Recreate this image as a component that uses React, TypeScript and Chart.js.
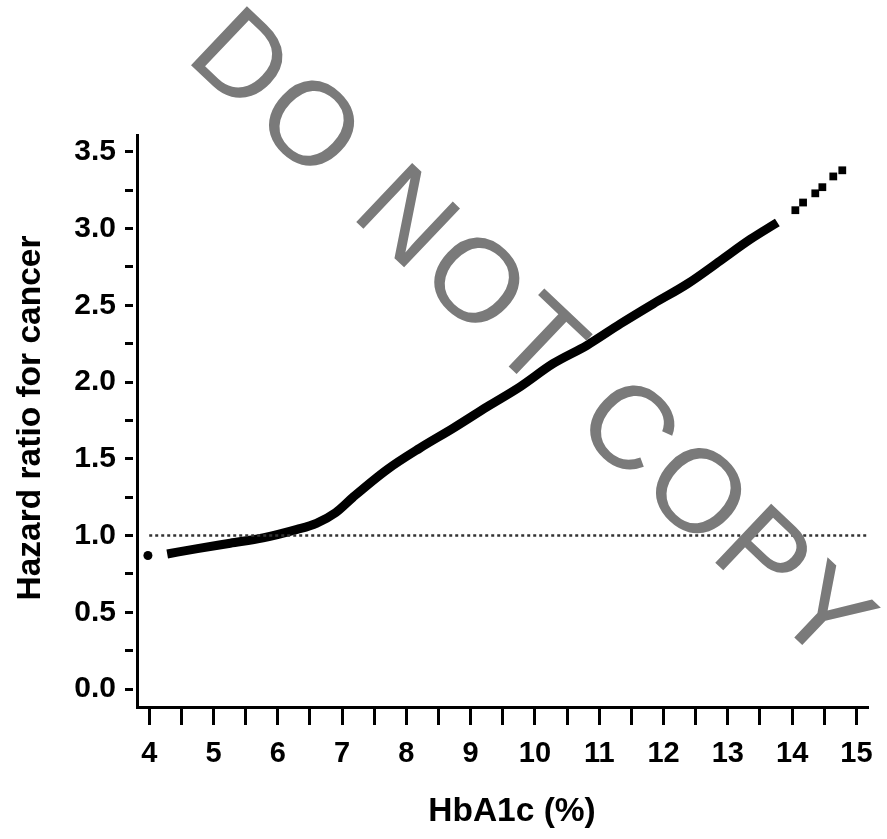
import React, { useEffect, useRef } from "react";
import { Chart, registerables } from "chart.js";

Chart.register(...registerables);

// Main continuous curve (HbA1c %, hazard ratio)
const curveX = [4.28, 4.75, 5.26, 5.77, 6.3, 6.6, 6.9, 7.17, 7.7, 8.21, 8.73, 9.26, 9.77, 10.28, 10.81, 11.33, 11.84, 12.37, 12.88, 13.35, 13.77];
const curveY = [0.88, 0.915, 0.95, 0.985, 1.04, 1.08, 1.15, 1.25, 1.43, 1.57, 1.7, 1.84, 1.97, 2.12, 2.24, 2.38, 2.51, 2.64, 2.79, 2.93, 3.04];

// Isolated markers
const dotX = [3.98, 14.05, 14.17, 14.36, 14.47, 14.64, 14.78];
const dotY = [0.87, 3.12, 3.17, 3.23, 3.27, 3.34, 3.38];
const dotStyle = ["circle", "rect", "rect", "rect", "rect", "rect", "rect"];
const dotSize = [4.5, 5.5, 5.5, 5.5, 5.5, 5.5, 5.5];

// Reference line HR = 1
const refX = [4.0, 15.22];
const refY = [1, 1];

// Axis ticks
const xTicks = [4, 4.5, 5, 5.5, 6, 6.5, 7, 7.5, 8, 8.5, 9, 9.5, 10, 10.5, 11, 11.5, 12, 12.5, 13, 13.5, 14, 14.5, 15];
const yTicks = [0, 0.25, 0.5, 0.75, 1, 1.25, 1.5, 1.75, 2, 2.25, 2.5, 2.75, 3, 3.25, 3.5];

const xTitle = "HbA1c (%)";
const yTitle = "Hazard ratio for cancer";
const watermark = "DO NOT COPY";

const FONT = '"Liberation Sans", Arial, Helvetica, sans-serif';

const overlay = {
  id: "overlay",
  afterDraw(chart: any) {
    const ctx = chart.ctx as CanvasRenderingContext2D;
    ctx.save();
    ctx.fillStyle = "#000";
    ctx.font = `bold 33.5px ${FONT}`;
    ctx.textAlign = "center";
    ctx.textBaseline = "middle";
    ctx.fillText(xTitle, 512, 812);
    ctx.translate(31, 418);
    ctx.rotate(-Math.PI / 2);
    ctx.fillText(yTitle, 0, 0);
    ctx.restore();

    ctx.save();
    ctx.translate(530, 342);
    ctx.rotate((43.5 * Math.PI) / 180);
    ctx.font = `118px ${FONT}`;
    (ctx as any).letterSpacing = "6px";
    ctx.fillStyle = "#7a7a7a";
    ctx.textAlign = "center";
    ctx.textBaseline = "middle";
    ctx.fillText(watermark, 0, 0);
    ctx.restore();
  },
};

export default function App() {
  const ref = useRef<HTMLCanvasElement | null>(null);

  useEffect(() => {
    if (!ref.current) return;
    const tickFont = { family: FONT, size: 29, weight: "bold" as const };
    const chart = new Chart(ref.current, {
      type: "line",
      data: {
        datasets: [
          {
            label: "ref",
            data: refX.map((x, i) => ({ x, y: refY[i] })),
            borderColor: "#333",
            borderWidth: 2.5,
            borderDash: [3, 3],
            pointRadius: 0,
            fill: false,
          },
          {
            label: "curve",
            data: curveX.map((x, i) => ({ x, y: curveY[i] })),
            borderColor: "#000",
            borderWidth: 9,
            pointRadius: 0,
            cubicInterpolationMode: "monotone",
            fill: false,
          },
          {
            label: "dots",
            data: dotX.map((x, i) => ({ x, y: dotY[i] })),
            showLine: false,
            pointStyle: dotStyle as any,
            pointRadius: dotSize,
            backgroundColor: "#000",
            borderColor: "#000",
            borderWidth: 0,
          },
        ],
      },
      options: {
        animation: false,
        responsive: false,
        layout: { padding: { top: 135, right: 19, left: 0, bottom: 0 } },
        plugins: { legend: { display: false }, tooltip: { enabled: false } },
        scales: {
          x: {
            type: "linear",
            min: 3.81,
            max: 15.18,
            afterBuildTicks: (s: any) => {
              s.ticks = xTicks.map((v) => ({ value: v }));
            },
            afterFit: (s: any) => {
              s.height = 132;
            },
            ticks: {
              autoSkip: false,
              maxRotation: 0,
              padding: 12,
              color: "#000",
              font: tickFont,
              callback: (v: any) => (Number.isInteger(Number(v)) ? String(v) : ""),
            },
            grid: {
              drawOnChartArea: false,
              drawTicks: true,
              tickLength: 18,
              tickWidth: 3,
              tickColor: "#000",
            },
            border: { display: true, color: "#000", width: 3 },
          },
          y: {
            type: "linear",
            min: -0.117,
            max: 3.61,
            afterBuildTicks: (s: any) => {
              s.ticks = yTicks.map((v) => ({ value: v }));
            },
            afterFit: (s: any) => {
              s.width = 137;
            },
            ticks: {
              autoSkip: false,
              padding: 9,
              color: "#000",
              font: { family: FONT, size: 30, weight: "bold" as const },
              callback: (v: any) => {
                const n = Number(v);
                return Math.abs(n * 2 - Math.round(n * 2)) < 1e-6 ? n.toFixed(1) : "";
              },
            },
            grid: {
              drawOnChartArea: false,
              drawTicks: true,
              tickLength: 12,
              tickWidth: 3,
              tickColor: "#000",
              tickBorderDash: [8, 20],
            },
            border: { display: true, color: "#000", width: 3 },
          },
        },
      },
      plugins: [overlay],
    });
    return () => chart.destroy();
  }, []);

  return (
    <div style={{ position: "fixed", left: 0, top: 0, width: 887, height: 839, background: "#fff" }}>
      <canvas ref={ref} width={887} height={839} style={{ width: 887, height: 839, display: "block" }} />
    </div>
  );
}
